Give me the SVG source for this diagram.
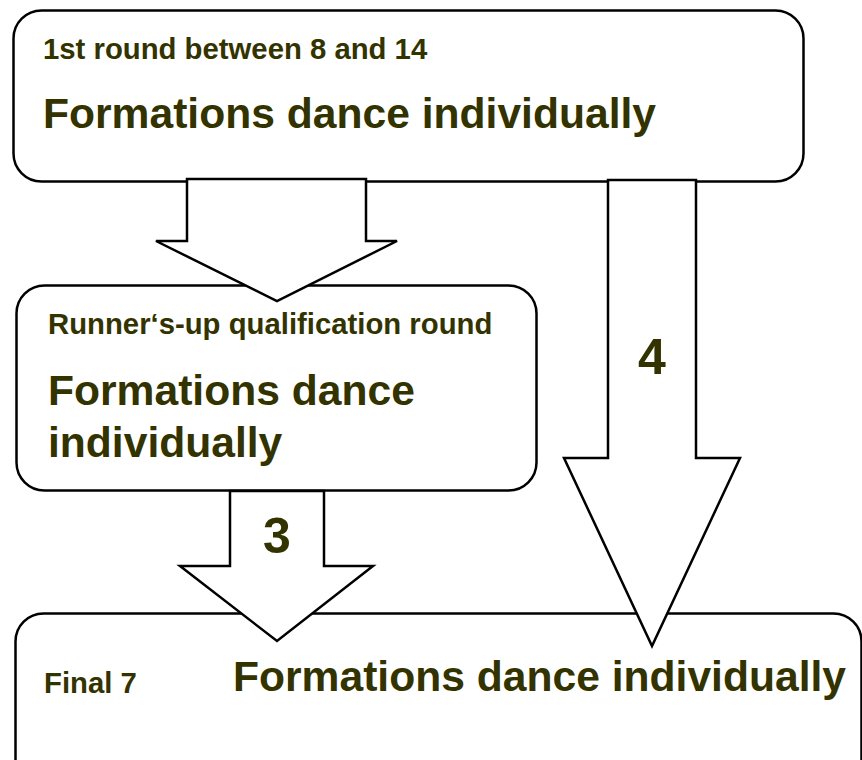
<svg xmlns="http://www.w3.org/2000/svg" width="862" height="760" viewBox="0 0 862 760">
<style>
.box{fill:#fff;stroke:#000;stroke-width:2.5}
.arr{fill:#fff;stroke:#000;stroke-width:2.5;stroke-linejoin:miter}
text{font-family:"Liberation Sans",Arial,sans-serif;font-weight:bold;fill:#333300}
.s{font-size:29.3px}
.b{font-size:42.6px}
.n{font-size:50px}
</style>
<rect width="862" height="760" fill="#fff"/>
<g id="node-round1">
<rect class="box" x="13.5" y="10.5" width="790" height="171" rx="28"/>
<text class="s" x="43" y="59">1st round between 8 and 14</text>
<text class="b" x="43" y="128">Formations dance individually</text>
</g>
<g id="node-runnersup">
<rect class="box" x="16.5" y="285.5" width="520" height="205" rx="28"/>
<text class="s" x="48" y="334">Runner‘s-up qualification round</text>
<text class="b" x="48" y="405">Formations dance</text>
<text class="b" x="48" y="457">individually</text>
</g>
<g id="node-final">
<rect class="box" x="15.5" y="613.5" width="846" height="190" rx="28"/>
<text class="s" x="44" y="693">Final 7</text>
<text class="b" x="233" y="691">Formations dance individually</text>
</g>
<g id="connectors">
<polygon class="arr" points="187,179 366,179 366,241 397,241 277,301 156,241 187,241"/>
<polygon class="arr" points="608,180 696,180 696,458 740,458 652,646 564,458 608,458"/>
<polygon class="arr" points="230,491 324,491 324,566 373,566 277,641 180,566 230,566"/>
<text class="n" x="277" y="553" text-anchor="middle">3</text>
<text class="n" x="652" y="374" text-anchor="middle">4</text>
</g>
</svg>
